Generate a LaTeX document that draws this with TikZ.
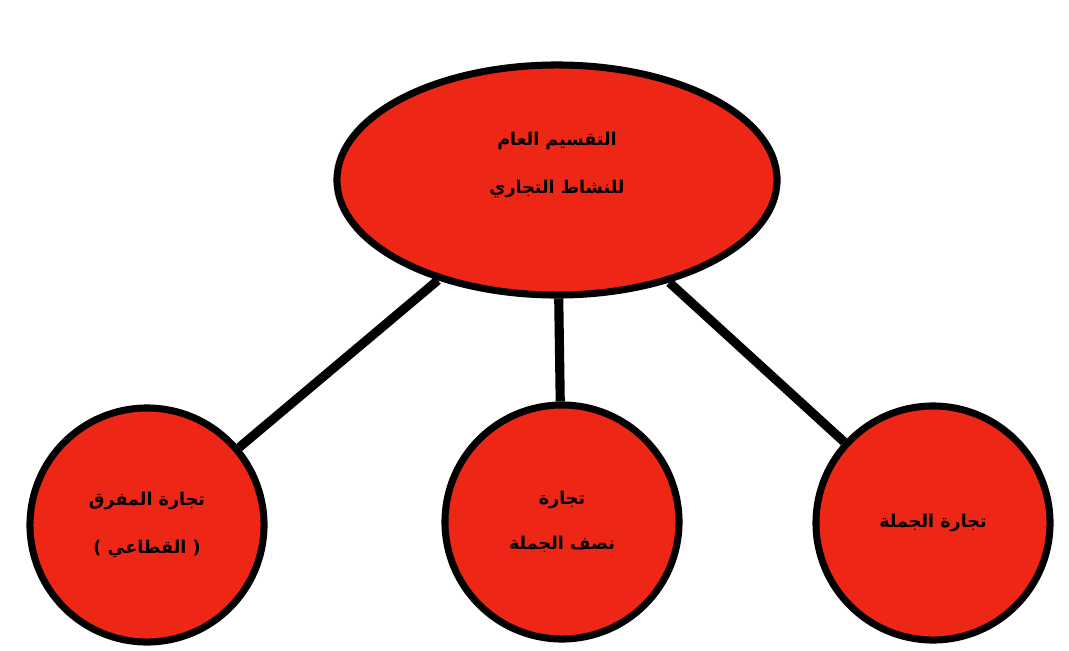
\documentclass[tikz,border=0pt]{standalone}
\usepackage{fontspec}
\usetikzlibrary{shapes.geometric}
\newfontfamily\arabicfont[Script=Arabic]{DejaVu Sans}
\TeXXeTstate=1
\definecolor{tradered}{RGB}{238,38,22}
\tikzset{
  level/.style={draw=black, line width=5pt, fill=tradered, inner sep=0pt,
    align=center, font=\arabicfont\bfseries\fontsize{12.5}{32}\selectfont},
  branch/.style={circle, level, minimum size=5.85cm},
  link/.style={line width=6.5pt}
}
\begin{document}
\begin{tikzpicture}[x=0.025cm, y=-0.025cm]
                \useasboundingbox (0,0) rectangle (1069,650);
                \node (top) [ellipse, level, minimum width=11cm, minimum height=5.75cm] at (557,180)
                    {\beginR التقسيم العام\endR\\[2pt]\beginR للنشاط التجاري\endR\\[-8pt]\mbox{}};
                \node (retail) [branch] at (147,525)
                    {\beginR تجارة المفرق\endR\\[2pt]\beginR( القطاعي )\endR};
                \node (semi) [branch] at (562,522)
                    {\beginR تجارة\endR\\\beginR نصف الجملة\endR};
                \node (whole) [branch] at (933,523)
                    {\beginR تجارة الجملة\endR};
                \draw[link] (top) -- (retail);
                \draw[link] (top) -- (semi);
                \draw[link] (top) -- (whole);
            \end{tikzpicture}
\end{document}
